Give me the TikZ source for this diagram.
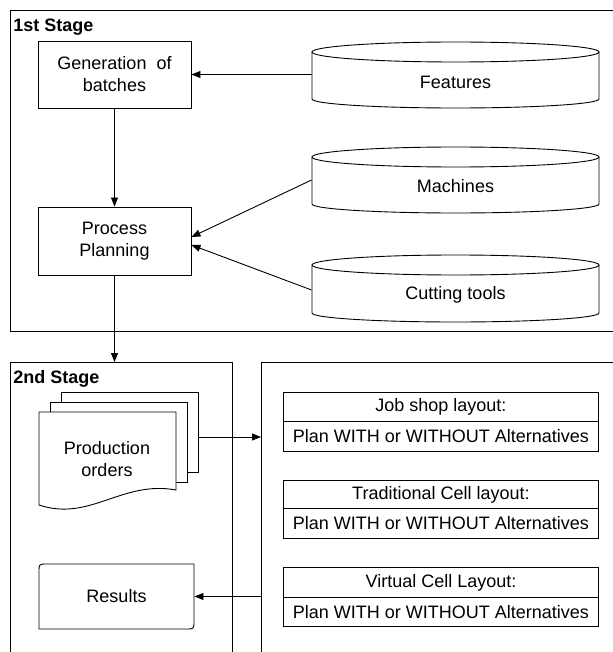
\documentclass[tikz,border=0pt]{standalone}
\usepackage{fontspec}
\setmainfont{Liberation Sans}
\usetikzlibrary{arrows.meta,calc}
\begin{document}
\begin{tikzpicture}[x=1pt,y=-1pt,line width=0.9pt,
  >={Triangle[length=9pt,width=7pt]},
  font=\fontsize{18}{22}\selectfont,
  frame/.style={draw,anchor=north west,inner sep=0pt},
  procbox/.style={draw,align=center,minimum width=153pt,inner sep=0pt},
  cyltext/.style={minimum width=287pt,inner sep=0pt},
  rowbox/.style={draw,anchor=north west,minimum width=315pt,inner sep=0pt},
  stagelabel/.style={anchor=west,font=\fontsize{18}{22}\selectfont\bfseries,inner sep=0pt}]
\useasboundingbox (0,0) rectangle (612,652);
% frames
\node[frame,minimum width=630pt,minimum height=321pt] (s1) at (10,10) {};
\node[frame,minimum width=222pt,minimum height=320pt] (s2) at (10,362) {};
\node[frame,minimum width=380pt,minimum height=320pt] (rbox) at (261,362) {};
\node[stagelabel] (l1) at (13,27) {1st Stage};
\node[stagelabel] (l2) at (13,379) {2nd Stage};
% process boxes
\node[procbox,minimum height=67pt] (gen) at (114.5,74.5) {Generation\ \ of\\batches};
\node[procbox,minimum height=68pt] (pp) at (114.5,241) {Process\\Planning};
% cylinders
\foreach \yt/\yb in {52/99,157/204,265/313}{
  \draw[fill=white] (312,\yt) -- (312,\yb) arc[start angle=180,end angle=360,x radius=143.5pt,y radius=9pt] -- (599,\yt);
  \draw (455.5,\yt) ellipse[x radius=143.5pt,y radius=10pt];
}
\node[cyltext] (features) at (455.5,82) {Features};
\node[cyltext] (machines) at (455.5,186) {Machines};
\node[cyltext] (cutting) at (455.5,295) {Cutting tools};
% connectors stage 1
\draw[->] (features.west |- gen.east) -- (gen.east);
\draw[->] (gen.south) -- (pp.north);
\draw[->] ($(machines.west)+(0,-6)$) -- ($(pp.east)+(0,-4)$);
\draw[->] ($(cutting.west)+(0,-5)$) -- ($(pp.east)+(0,4)$);
\draw[->] (pp.south) -- (pp.south |- s2.north);
% production orders (multi-document)
\draw[fill=white] (61,402) -- (61,392) -- (198,392) -- (198,472) -- (187,472);
\draw[fill=white] (50,412) -- (50,402) -- (187,402) -- (187,482) -- (176,482);
\draw[fill=white] (39,505) -- (39,412) -- (176,412) -- (176,490)
  .. controls (122,480) and (90,522) .. cycle;
\node[align=center] (po) at (107,459) {Production\\orders};
\coordinate (poR) at (198,437);
\draw[->] (poR) -- (poR -| rbox.west);
% results
\draw (39,629) -- (39,572) .. controls (39,564) .. (47,564) -- (194,564)
  -- (194,621) .. controls (194,629) .. (186,629) -- cycle;
\node[minimum width=155pt,minimum height=65pt,inner sep=0pt] (results) at (116.5,596.5) {Results};
\draw[->] (rbox.west |- results.east) -- (results.east);
% layout rows
\node[rowbox,minimum height=29pt] (jt) at (283,392) {Job shop layout:};
\node[rowbox,minimum height=30pt] (jb) at (283,421) {Plan WITH or WITHOUT Alternatives};
\node[rowbox,minimum height=28pt] (tt) at (283,480) {Traditional Cell layout:};
\node[rowbox,minimum height=30pt] (tb) at (283,508) {Plan WITH or WITHOUT Alternatives};
\node[rowbox,minimum height=30pt] (vt) at (283,567) {Virtual Cell Layout:};
\node[rowbox,minimum height=29pt] (vb) at (283,597) {Plan WITH or WITHOUT Alternatives};
\end{tikzpicture}
\end{document}
